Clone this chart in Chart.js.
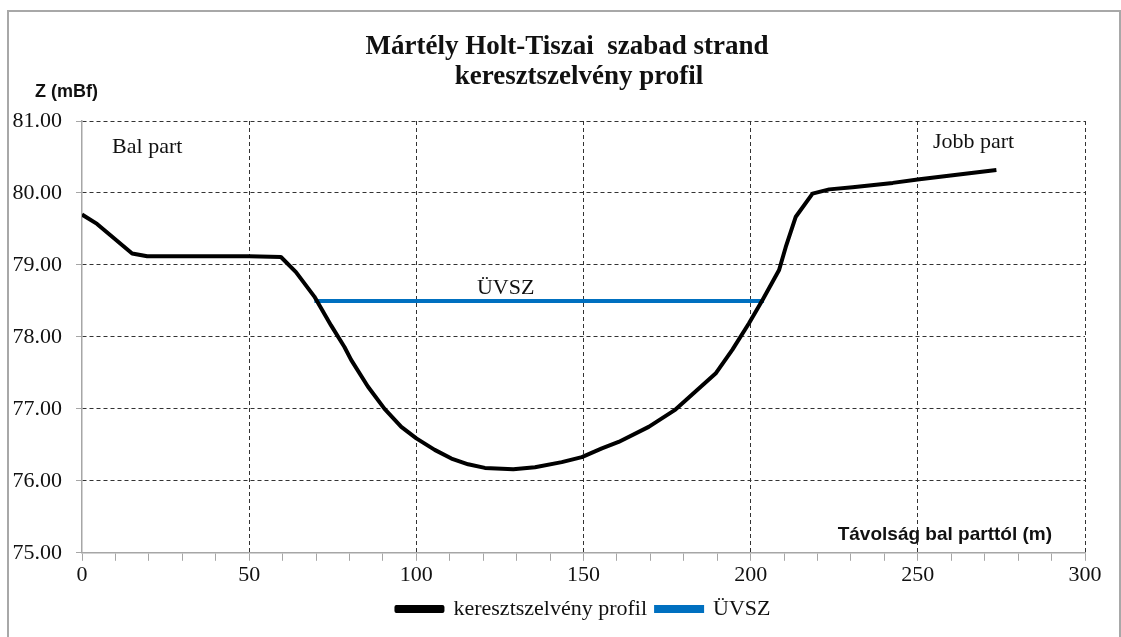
<!DOCTYPE html>
<html>
<head>
<meta charset="utf-8">
<script src="https://cdn.jsdelivr.net/npm/chart.js@4.4.0/dist/chart.umd.min.js"></script>
<style>
  html, body { margin: 0; padding: 0; background: #fff; }
  #frame { position: absolute; left: 7px; top: 10px; width: 1110px; height: 640px; border: 2px solid #a8a8a8; }
  #wrap { position: absolute; left: 0; top: 0; width: 1121px; height: 637px; }
</style>
</head>
<body>
<div id="frame"></div>
<div id="wrap"><canvas id="chart" width="1121" height="637"></canvas></div>
<script>
// cross section profile
const distances = [0, 4.5, 15, 19.5, 30, 40, 50, 59.5, 64, 69.5, 74.5, 78.5, 80.5, 85.5, 90.5, 95.5, 100,
  105.5, 110.5, 115.5, 120.5, 129, 135.5, 143.5, 149.5, 155.5, 160.5, 169.5, 177.5, 183.5, 189.5, 194.5,
  199.5, 203.5, 208.5, 210.5, 213.5, 218.5, 223.5, 230.5, 242.5, 250.5, 273.5];
const heights = [79.70, 79.57, 79.16, 79.12, 79.12, 79.12, 79.12, 79.11, 78.90, 78.56, 78.16, 77.86, 77.68,
  77.31, 77.00, 76.75, 76.59, 76.43, 76.31, 76.23, 76.18, 76.16, 76.19, 76.26, 76.33, 76.45, 76.54, 76.75,
  76.99, 77.24, 77.49, 77.82, 78.19, 78.51, 78.93, 79.25, 79.67, 79.99, 80.05, 80.08, 80.14, 80.19, 80.32];

// water level line (ÜVSZ)
const uvszX = [69.5, 204];
const uvszZ = [78.5, 78.5];

const seriesNames = ['keresztszelvény profil', 'ÜVSZ'];
const titleLines = ['Mártély Holt-Tiszai  szabad strand', 'keresztszelvény profil'];
const yTicks = [75, 76, 77, 78, 79, 80, 81];

const SERIF = '"Liberation Serif", "Times New Roman", serif';
const SANS = '"Liberation Sans", Arial, sans-serif';
const GRID = '#333';
const AXIS = '#a6a6a6';

// title, axis captions and the small notes inside the plot
const labelsPlugin = {
  id: 'labels',
  afterDatasetsDraw(chart) {
    const { ctx, scales: { x, y } } = chart;
    ctx.save();
    ctx.fillStyle = '#111';
    ctx.textBaseline = 'alphabetic';

    ctx.font = 'bold 27px ' + SERIF;
    ctx.textAlign = 'center';
    ctx.fillText(titleLines[0], 567, 54);
    ctx.fillText(titleLines[1], 579, 84);

    ctx.font = '22px ' + SERIF;
    ctx.textAlign = 'left';
    ctx.fillText('Bal part', x.getPixelForValue(9), y.getPixelForValue(80.56));
    ctx.fillText('Jobb part', x.getPixelForValue(254.5), y.getPixelForValue(80.63));
    ctx.textAlign = 'center';
    ctx.fillText('ÜVSZ', x.getPixelForValue(126.7), y.getPixelForValue(78.6));

    ctx.font = 'bold 18px ' + SANS;
    ctx.textAlign = 'left';
    ctx.fillText('Z (mBf)', 35, 97);
    ctx.font = 'bold 19px ' + SANS;
    ctx.textAlign = 'right';
    ctx.fillText('Távolság bal parttól (m)', 1052, 540);
    ctx.restore();
  }
};

new Chart(document.getElementById('chart'), {
  type: 'line',
  data: {
    datasets: [
      {
        label: seriesNames[0],
        data: distances.map((d, i) => ({ x: d, y: heights[i] })),
        borderColor: '#000',
        backgroundColor: '#000',
        borderWidth: 4,
        borderJoinStyle: 'round',
        pointRadius: 0,
        tension: 0,
        fill: false
      },
      {
        label: seriesNames[1],
        data: uvszX.map((d, i) => ({ x: d, y: uvszZ[i] })),
        borderColor: '#0070C0',
        backgroundColor: '#0070C0',
        borderWidth: 4,
        pointRadius: 0,
        fill: false
      }
    ]
  },
  options: {
    responsive: false,
    animation: false,
    layout: { padding: { left: 10, right: 36, top: 121, bottom: 7 } },
    plugins: {
      title: { display: false },
      legend: {
        position: 'bottom',
        fullSize: false,
        labels: {
          color: '#111',
          font: { family: SERIF, size: 22 },
          boxWidth: 46,
          boxHeight: 4,
          padding: 9
        }
      },
      tooltip: { enabled: false }
    },
    scales: {
      x: {
        type: 'linear',
        min: 0,
        max: 300,
        afterBuildTicks: (s) => { s.ticks = Array.from({ length: 31 }, (_, i) => ({ value: i * 10 })); },
        ticks: {
          autoSkip: false,
          maxRotation: 0,
          color: '#111',
          // small line height so the legend can sit close under the labels
          font: { family: SERIF, size: 22, lineHeight: 0.1 },
          padding: 13,
          callback: (v) => (v % 50 === 0 ? String(v) : '')
        },
        grid: {
          color: (c) => (c.tick && c.tick.value % 50 === 0 && c.tick.value !== 0 ? GRID : 'transparent'),
          tickColor: AXIS,
          tickLength: 8,
          lineWidth: 1
        },
        border: { display: true, color: AXIS, width: 1.5, dash: [4, 3] }
      },
      y: {
        min: 75,
        max: 81,
        afterBuildTicks: (s) => { s.ticks = yTicks.map((v) => ({ value: v })); },
        afterFit: (s) => { s.width = 72; },
        ticks: {
          color: '#111',
          font: { family: SERIF, size: 22 },
          padding: 14,
          callback: (v) => v.toFixed(2)
        },
        grid: {
          color: (c) => (c.tick && c.tick.value !== 75 ? GRID : 'transparent'),
          tickColor: AXIS,
          tickLength: 6,
          lineWidth: 1
        },
        border: { display: true, color: AXIS, width: 1.5, dash: [4, 3] }
      }
    }
  },
  plugins: [labelsPlugin]
});
</script>
</body>
</html>
